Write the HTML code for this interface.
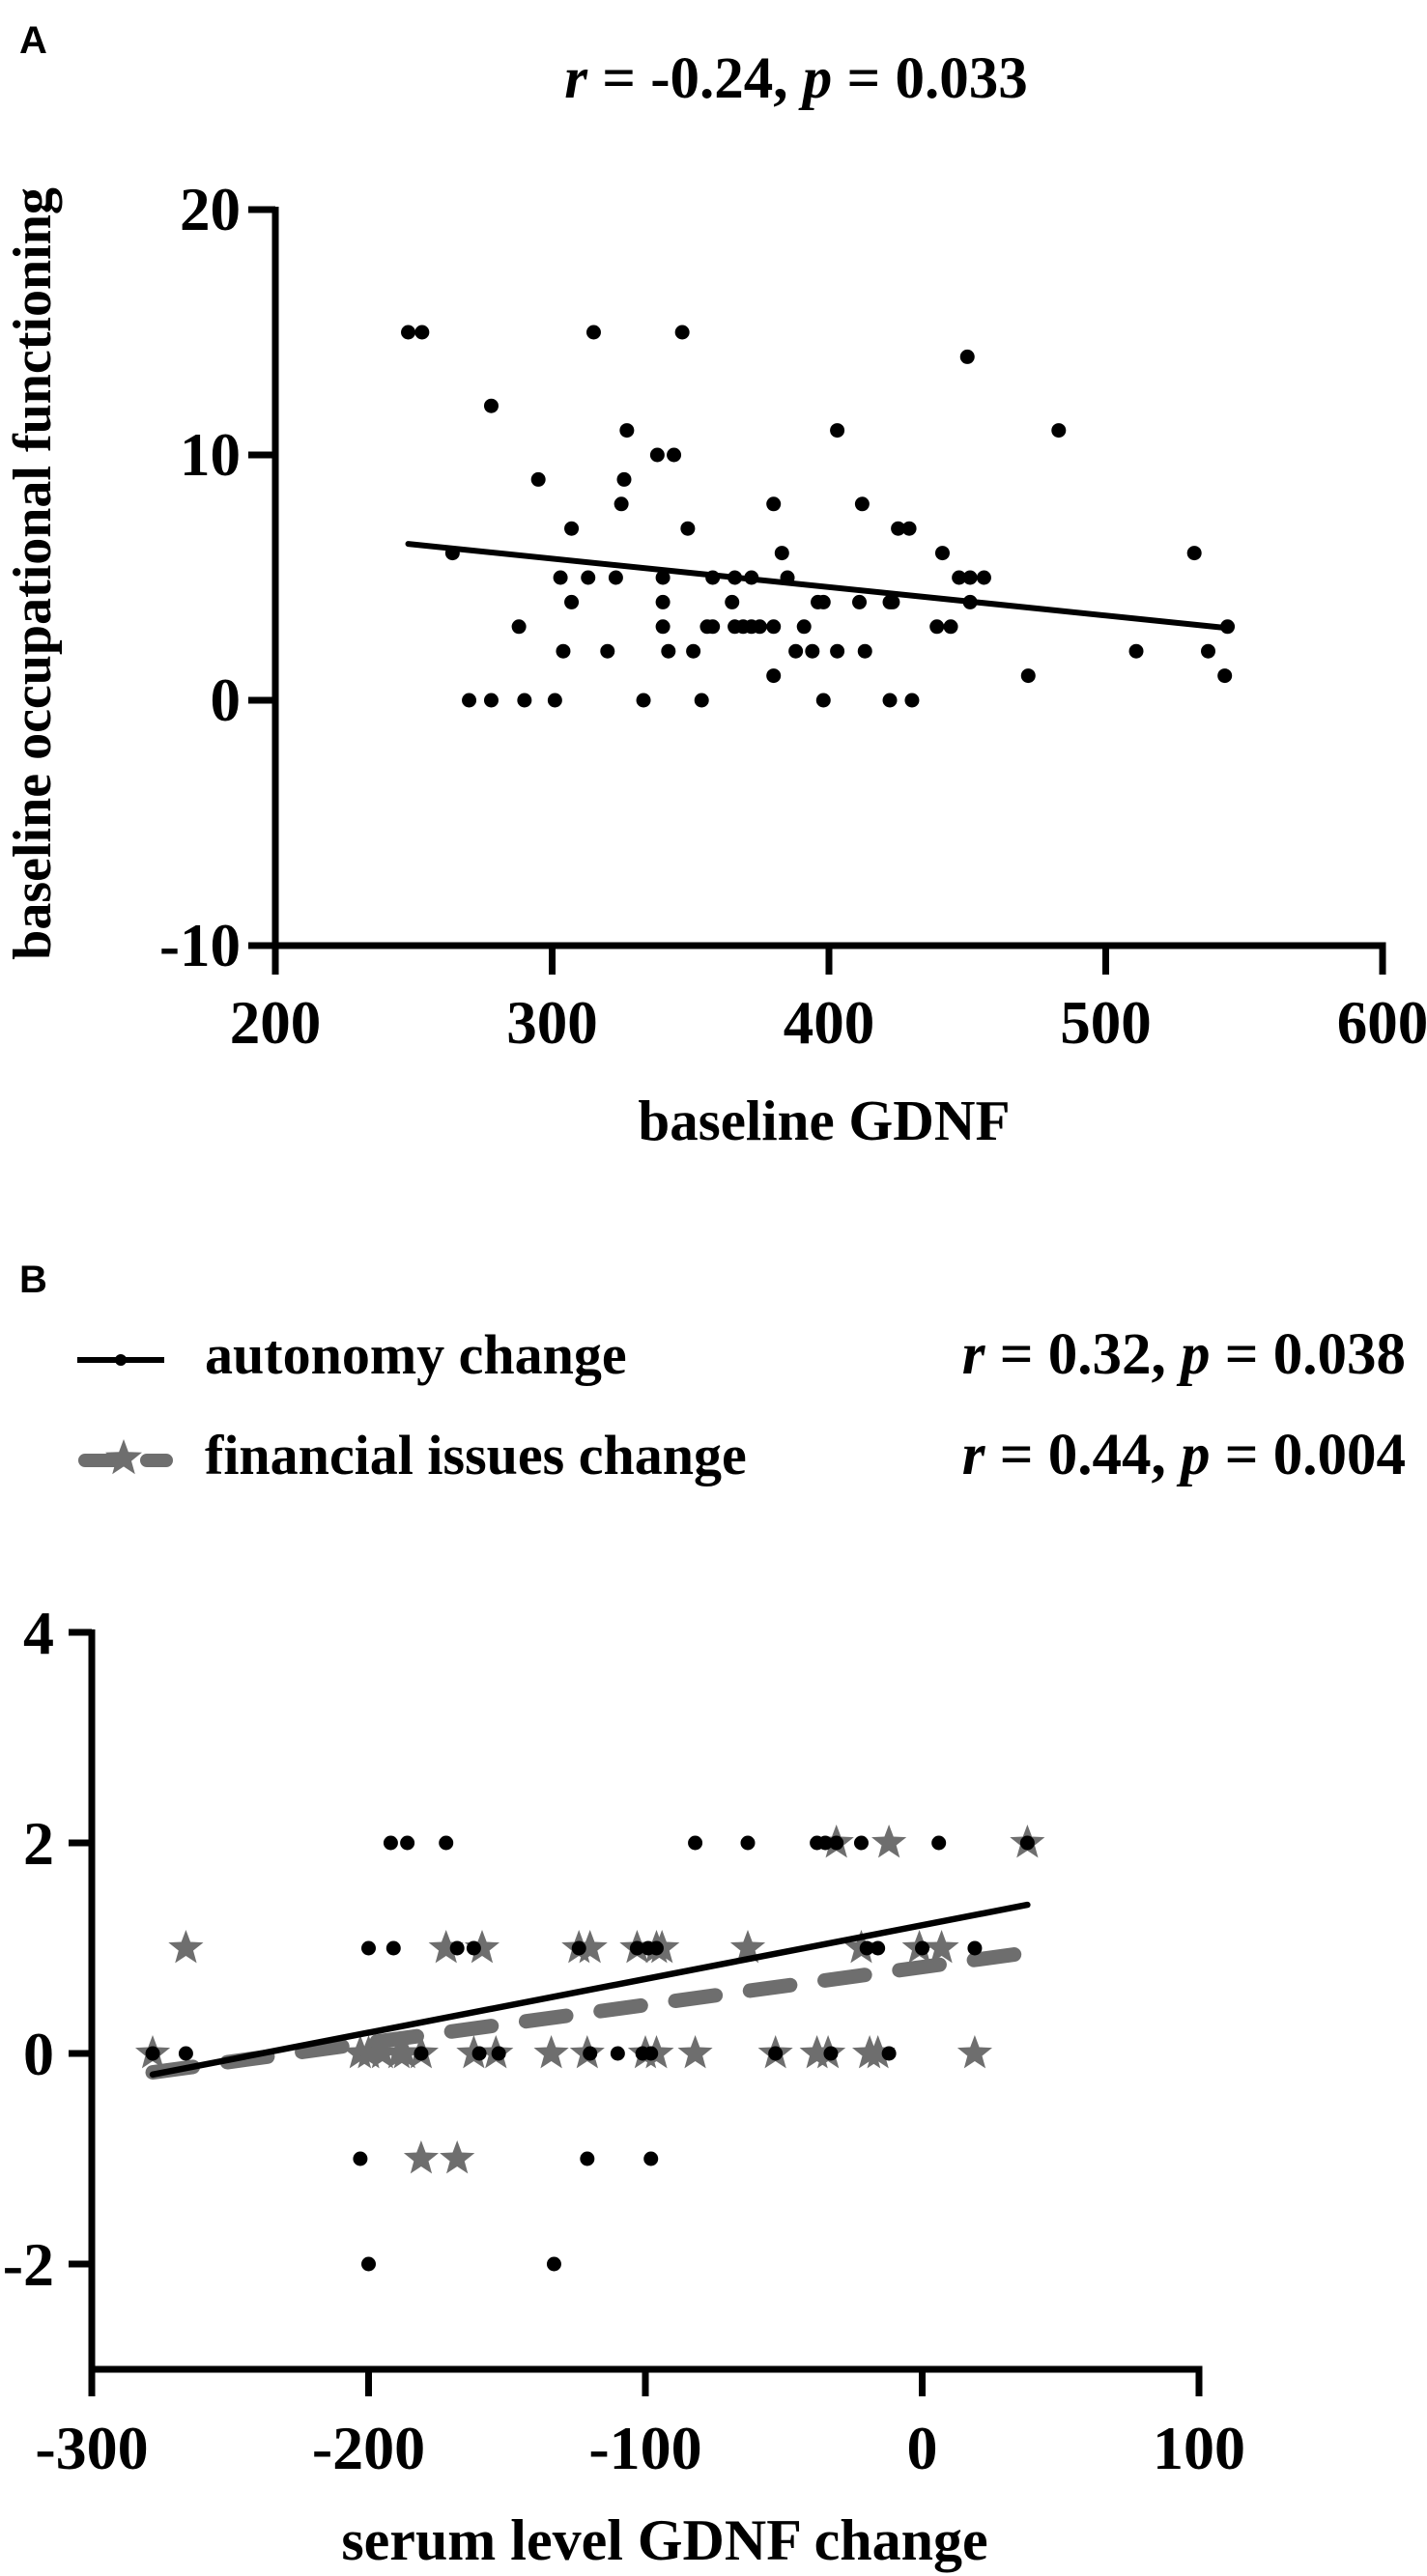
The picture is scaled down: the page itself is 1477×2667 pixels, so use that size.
<!DOCTYPE html>
<html><head><meta charset="utf-8">
<style>
html,body{margin:0;padding:0;background:#fff;}
svg{display:block;}
text{font-family:"Liberation Serif",serif;font-weight:bold;fill:#000;}
.sans{font-family:"Liberation Sans",sans-serif;}
</style></head>
<body>
<svg id="fig" width="1477" height="2667" viewBox="0 0 1477 2667" xmlns="http://www.w3.org/2000/svg">
<g id="pa">
<text class="sans" x="20" y="55" font-size="40">A</text>
<text x="824" y="101" font-size="61" text-anchor="middle"><tspan font-style="italic">r</tspan> = -0.24, <tspan font-style="italic">p</tspan> = 0.033</text>
<text transform="translate(52,594) rotate(-90)" font-size="56" text-anchor="middle">baseline occupational functioning</text>
<text x="853" y="1180" font-size="59" text-anchor="middle">baseline GDNF</text>
</g>
<g id="pb">
<text class="sans" x="20" y="1338" font-size="40">B</text>
<g>
<line x1="80" y1="1408" x2="170" y2="1408" stroke="#000" stroke-width="6"/>
<circle cx="125" cy="1408" r="6" fill="#000"/>
<text x="212" y="1422" font-size="58">autonomy change</text>
</g>
<g>
<line x1="88" y1="1512" x2="172" y2="1512" stroke="#6e6e6e" stroke-width="14" stroke-linecap="round" stroke-dasharray="30 34"/>
<polygon id="legstar" fill="#6e6e6e"/>
<text x="212" y="1526" font-size="58">financial issues change</text>
</g>
<text x="1455" y="1422" font-size="61" text-anchor="end"><tspan font-style="italic">r</tspan> = 0.32, <tspan font-style="italic">p</tspan> = 0.038</text>
<text x="1455" y="1526" font-size="61" text-anchor="end"><tspan font-style="italic">r</tspan> = 0.44, <tspan font-style="italic">p</tspan> = 0.004</text>
<text x="688" y="2650" font-size="60" text-anchor="middle">serum level GDNF change</text>
</g>
</svg>
<script>
// Panel A data
const aX = [248,253,315,347, 450, 278, 327,403,483, 338,344, 295,326, 325,380,412, 307,349,425,429, 264,383,441,532,
 303,313,323,340,358,366,372,385,447,451,456, 307,340,365,396,398,411,422,423,451,
 288,340,356,358,366,369,372,375,380,391,439,444,544, 304,320,342,351,388,394,403,413,511,537, 380,472,543,
 270,278,290,301,333,354,398,422,430];
const aY = [15,15,15,15, 14, 12, 11,11,11, 10,10, 9,9, 8,8,8, 7,7,7,7, 6,6,6,6,
 5,5,5,5,5,5,5,5,5,5,5, 4,4,4,4,4,4,4,4,4,
 3,3,3,3,3,3,3,3,3,3,3,3,3, 2,2,2,2,2,2,2,2,2,2, 1,1,1,
 0,0,0,0,0,0,0,0,0];
const aXTicks = [200,300,400,500,600];
const aYTicks = [-10,0,10,20];
// Panel B data
const autoX = [-192,-186,-172,-82,-63,-38,-35,-31,-22,6,38, -200,-191,-168,-162,-124,-103,-99,-96,-20,-16,0,19,
 -278,-266,-181,-160,-153,-120,-110,-101,-98,-53,-33,-12, -203,-121,-98, -200,-133];
const autoY = [2,2,2,2,2,2,2,2,2,2,2, 1,1,1,1,1,1,1,1,1,1,1,1, 0,0,0,0,0,0,0,0,0,0,0,0, -1,-1,-1, -2,-2];
const finX = [-31,-12,38, -266,-172,-159,-124,-120,-103,-96,-94,-63,-22,-1,7,
 -278,-203,-200,-195,-189,-187,-181,-162,-154,-134,-121,-100,-96,-82,-53,-38,-34,-19,-16,19, -181,-168];
const finY = [2,2,2, 1,1,1,1,1,1,1,1,1,1,1,1, 0,0,0,0,0,0,0,0,0,0,0,0,0,0,0,0,0,0,0,0, -1,-1];
const bXTicks = [-300,-200,-100,0,100];
const bYTicks = [-2,0,2,4];

const NS = 'http://www.w3.org/2000/svg';
const svg = document.getElementById('fig');
function mk(tag, attrs, parent){
  const e = document.createElementNS(NS, tag);
  for (const k in attrs) e.setAttribute(k, attrs[k]);
  (parent||svg).appendChild(e); return e;
}
function fit(xs, ys){
  const n = xs.length; let mx=0,my=0; for(let i=0;i<n;i++){mx+=xs[i];my+=ys[i];} mx/=n; my/=n;
  let sxy=0,sxx=0; for(let i=0;i<n;i++){sxy+=(xs[i]-mx)*(ys[i]-my); sxx+=(xs[i]-mx)**2;}
  const b=sxy/sxx; return {a:my-b*mx,b:b};
}
function starPts(cx, cy, R){
  const r = R*0.42, p=[];
  for(let i=0;i<10;i++){const ang=-Math.PI/2+i*Math.PI/5; const rr=i%2?r:R; p.push((cx+rr*Math.cos(ang)).toFixed(1)+','+(cy+rr*Math.sin(ang)).toFixed(1));}
  return p.join(' ');
}
document.getElementById('legstar').setAttribute('points', starPts(128,1510,20));

// Panel A axes
const ax = v => 285 + (v-200)*(1431-285)/400;
const ay = v => 725 - v*25.4;
const gA = document.getElementById('pa');
let l = mk('line',{x1:ax(200),y1:ay(20)-3,x2:ax(200),y2:ay(-10)+3.5,stroke:'#000','stroke-width':7},gA);
 
l = mk('line',{x1:ax(200)-3.5,y1:ay(-10),x2:ax(600)+3.5,y2:ay(-10),stroke:'#000','stroke-width':7},gA);
 
aYTicks.forEach(t=>{
  const tk = mk('line',{x1:ax(200)-28,y1:ay(t),x2:ax(200),y2:ay(t),stroke:'#000','stroke-width':7},gA);
   
  const tx = mk('text',{x:ax(200)-36,y:ay(t)+21,'font-size':63,'text-anchor':'end'},gA); tx.textContent=t;
   
});
aXTicks.forEach(t=>{
  const tk = mk('line',{x1:ax(t),y1:ay(-10),x2:ax(t),y2:ay(-10)+30,stroke:'#000','stroke-width':7},gA);
   
  const tx = mk('text',{x:ax(t),y:1080,'font-size':63,'text-anchor':'middle'},gA); tx.textContent=t;
   
});
aX.forEach((x,i)=>{
  const c = mk('circle',{cx:ax(x),cy:ay(aY[i]),r:7.5,fill:'#000'},gA);
   
});
const fa = fit(aX,aY);
const aMin = Math.min(...aX), aMax = Math.max(...aX);
l = mk('line',{x1:ax(aMin),y1:ay(fa.a+fa.b*aMin),x2:ax(aMax),y2:ay(fa.a+fa.b*aMax),stroke:'#000','stroke-width':6,'stroke-linecap':'round'},gA);
 

// Panel B axes
const bx = v => 95 + (v+300)*(1241-95)/400;
const by = v => 2126 - v*109;
const gB = document.getElementById('pb');
l = mk('line',{x1:bx(-300),y1:by(4)-3,x2:bx(-300),y2:by(-3)+3.5,stroke:'#000','stroke-width':7},gB);
 
l = mk('line',{x1:bx(-300)-3.5,y1:by(-3),x2:bx(100)+3.5,y2:by(-3),stroke:'#000','stroke-width':7},gB);
 
bYTicks.forEach(t=>{
  const tk = mk('line',{x1:bx(-300)-24,y1:by(t),x2:bx(-300),y2:by(t),stroke:'#000','stroke-width':7},gB);
   
  const tx = mk('text',{x:56,y:by(t)+22,'font-size':64,'text-anchor':'end'},gB); tx.textContent=t;
   
});
bXTicks.forEach(t=>{
  const tk = mk('line',{x1:bx(t),y1:by(-3),x2:bx(t),y2:by(-3)+28,stroke:'#000','stroke-width':7},gB);
   
  const tx = mk('text',{x:bx(t),y:2556,'font-size':64,'text-anchor':'middle'},gB); tx.textContent=t;
   
});
finX.forEach((x,i)=>{
  const s = mk('polygon',{points:starPts(bx(x),by(finY[i]),19),fill:'#6e6e6e'},gB);
   
});
const ff = fit(finX,finY);
const fMin = Math.min(...finX), fMax = Math.max(...finX);
l = mk('line',{x1:bx(fMin),y1:by(ff.a+ff.b*fMin),x2:bx(fMax),y2:by(ff.a+ff.b*fMax),stroke:'#6e6e6e','stroke-width':15,'stroke-linecap':'round','stroke-dasharray':'42 36'},gB);
 
const fb = fit(autoX,autoY);
const bMin = Math.min(...autoX), bMax = Math.max(...autoX);
l = mk('line',{x1:bx(bMin),y1:by(fb.a+fb.b*bMin),x2:bx(bMax),y2:by(fb.a+fb.b*bMax),stroke:'#000','stroke-width':6.5,'stroke-linecap':'round'},gB);
 
autoX.forEach((x,i)=>{
  const c = mk('circle',{cx:bx(x),cy:by(autoY[i]),r:7.5,fill:'#000'},gB);
   
});
</script>
</body></html>
